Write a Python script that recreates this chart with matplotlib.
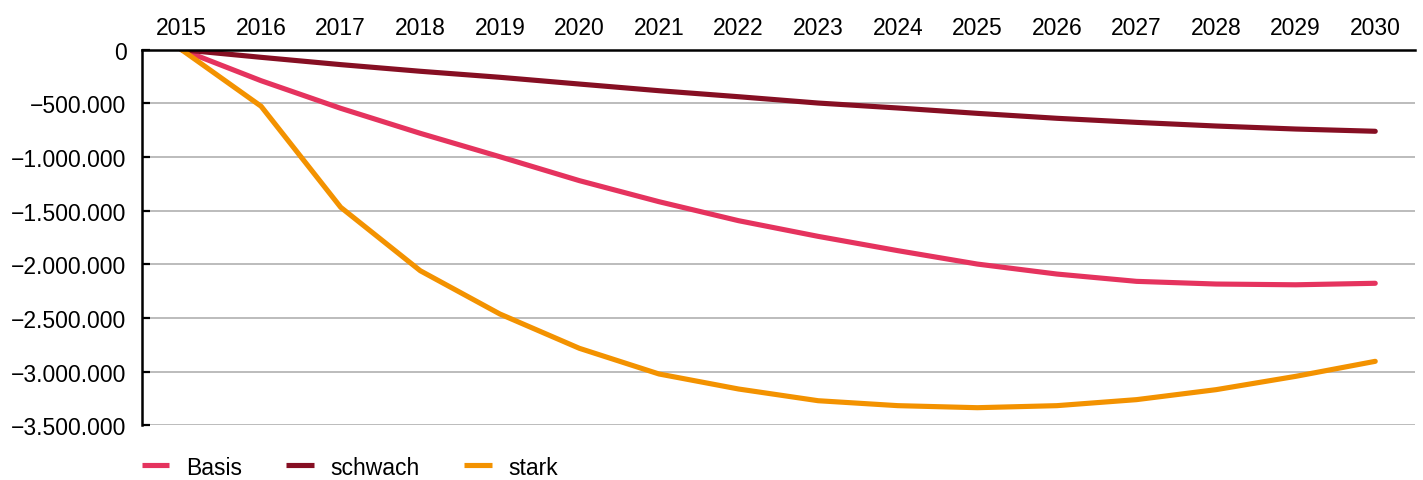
import matplotlib.pyplot as plt
from matplotlib.ticker import FuncFormatter

years = list(range(2015, 2031))
basis = [0, -289000, -546000, -779000, -997000, -1220000, -1416000, -1593000,
         -1739000, -1872000, -1997000, -2090000, -2158000, -2183000, -2190000, -2176000]
schwach = [0, -71000, -139000, -201000, -257000, -320000, -382000, -438000,
           -497000, -543000, -593000, -639000, -677000, -711000, -739000, -760000]
stark = [0, -527000, -1468000, -2059000, -2462000, -2782000, -3021000, -3161000,
         -3270000, -3316000, -3335000, -3316000, -3260000, -3167000, -3043000, -2903000]
yticks = [0, -500000, -1000000, -1500000, -2000000, -2500000, -3000000, -3500000]

plt.rcParams['font.family'] = ['Liberation Sans', 'DejaVu Sans']

fig = plt.figure(figsize=(14.23, 4.81), dpi=100)
ax = fig.add_axes([0.0996, 0.1135, 0.8948, 0.7811])

ax.plot(years, basis, color='#e5335e', lw=3.7, label='Basis', solid_capstyle='round')
ax.plot(years, schwach, color='#860f23', lw=3.7, label='schwach', solid_capstyle='round')
ax.plot(years, stark, color='#f39200', lw=3.7, label='stark', solid_capstyle='round')

ax.set_xlim(2014.5, 2030.5)
ax.set_ylim(-3500000, 0)
ax.set_xticks(years)
ax.set_yticks(yticks)


def fmt(v, pos):
    s = '{:,.0f}'.format(abs(v)).replace(',', '.')
    return ('\u2212' + s) if v < 0 else s


ax.yaxis.set_major_formatter(FuncFormatter(fmt))
ax.xaxis.tick_top()
ax.tick_params(axis='x', length=0, pad=8, labelsize=16.5)
ax.tick_params(axis='y', direction='in', length=6, width=1.6, pad=11, labelsize=16.5)
ax.grid(axis='y', color='#aaaaaa', lw=1.1)
ax.set_axisbelow(True)
for s in ['right', 'bottom']:
    ax.spines[s].set_visible(False)
ax.spines['left'].set_linewidth(1.8)
ax.spines['top'].set_linewidth(1.8)

leg = fig.legend(loc='center left', bbox_to_anchor=(0.0996, 0.027), ncol=3, frameon=False,
                 fontsize=16.5, handlelength=1.2, handletextpad=0.72, columnspacing=1.95,
                 borderpad=0, borderaxespad=0)
for h in leg.get_lines():
    h.set_solid_capstyle('butt')

fig.savefig('out.png', dpi=100)
